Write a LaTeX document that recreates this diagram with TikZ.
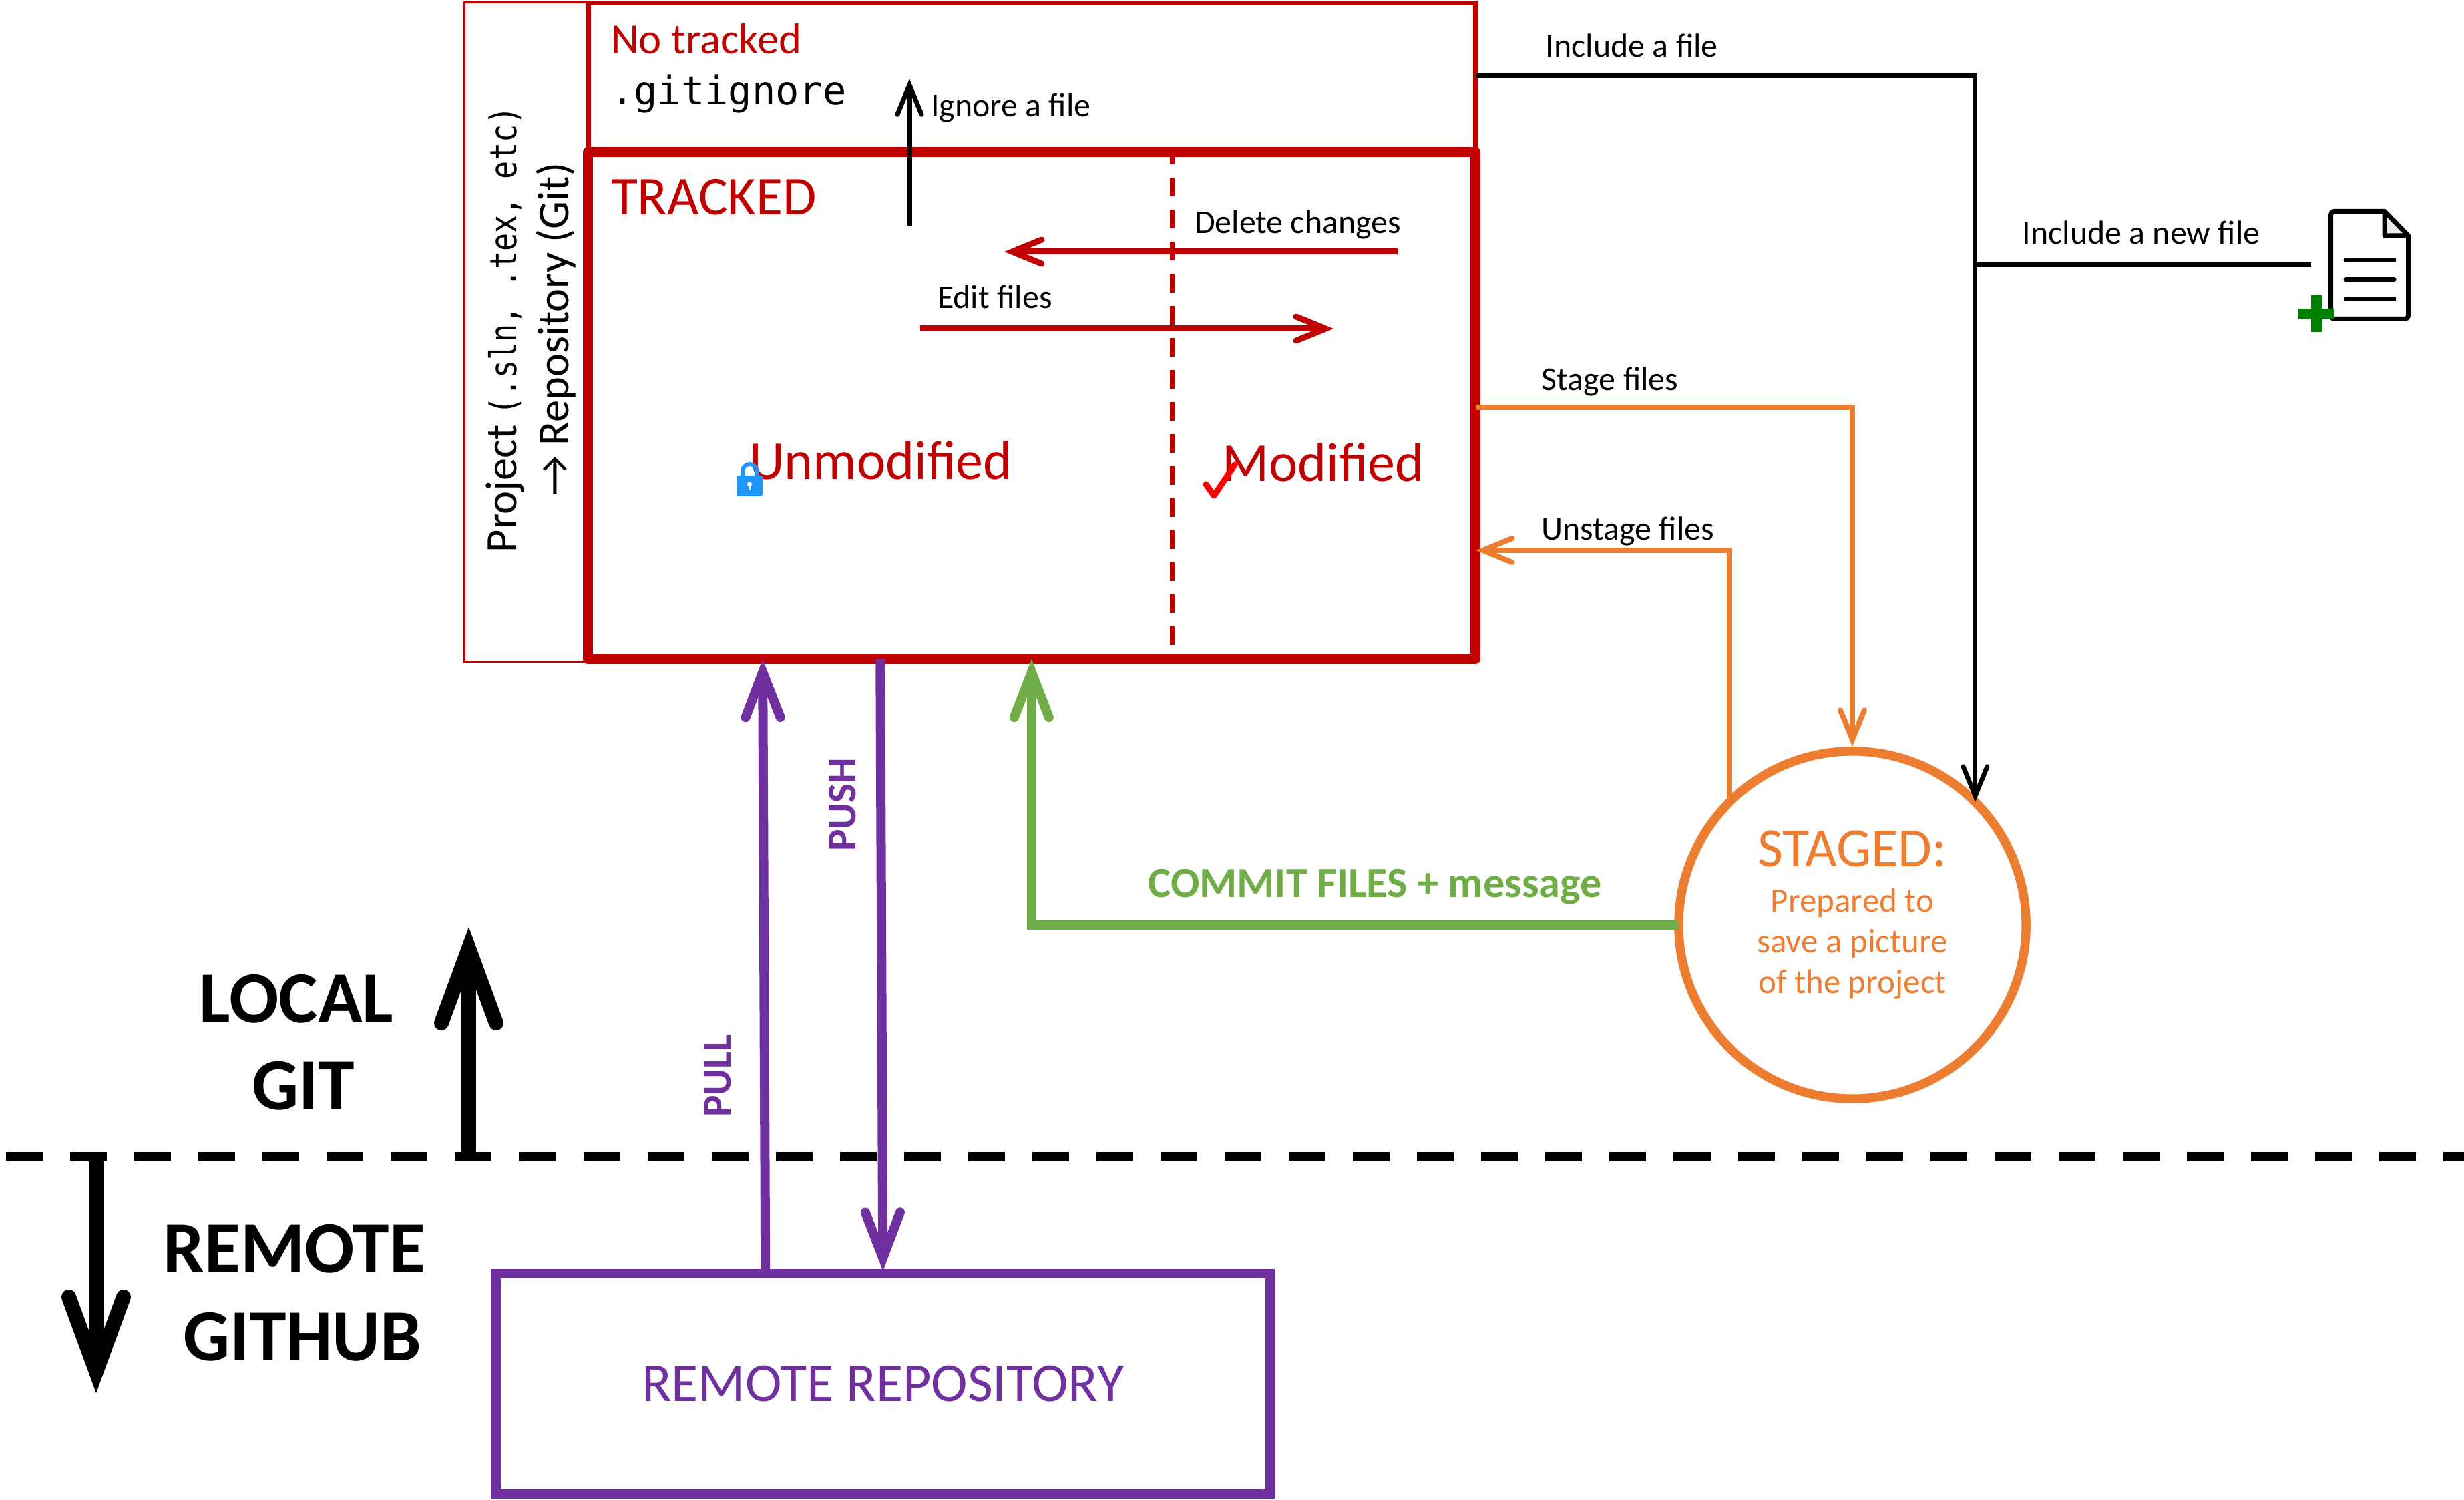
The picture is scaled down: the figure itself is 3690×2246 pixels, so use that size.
\documentclass[tikz,border=0pt]{standalone}
\usepackage{fontspec}
\setmainfont{Carlito}
\setmonofont{DejaVu Sans Mono}
\newfontfamily\narrowmono[FakeStretch=.82]{DejaVu Sans Mono}
\usetikzlibrary{arrows.meta}
\definecolor{trackred}{HTML}{C00000}
\definecolor{stageorange}{HTML}{ED7D31}
\definecolor{commitgreen}{HTML}{70AD47}
\definecolor{remotepurple}{HTML}{7030A0}
\definecolor{lockblue}{HTML}{1E96FA}
\definecolor{plusgreen}{HTML}{008000}
\tikzset{
  box/.style={draw,inner sep=0pt,outer sep=0pt,anchor=north west},
  lab/.style={inner sep=0pt,outer sep=0pt,anchor=base west,font=\fontsize{14.2}{17}\selectfont},
  redlab/.style={lab,text=trackred},
  loud/.style={inner sep=0pt,anchor=base,font=\bfseries\fontsize{31.3}{36}\selectfont},
  vert/.style={inner sep=0pt,rotate=90,text=remotepurple,font=\bfseries\fontsize{17.4}{20}\selectfont},
  tinybarb/.tip={Straight Barb[length=.44cm,width=.36cm,line cap=round,line join=miter]},
  midbarb/.tip={Straight Barb[length=.68cm,width=.52cm,line cap=round,line join=miter]},
  bigbarb/.tip={Straight Barb[length=1.12cm,width=.82cm,line cap=round,line join=miter]},
  blackline/.style={draw=black,line width=.07cm},
  orangeline/.style={draw=stageorange,line width=.08cm},
  redline/.style={draw=trackred,line width=.09cm},
  fatline/.style={line width=.14cm},
  iconline/.style={draw=black,line width=.07cm,line cap=round,line join=round}
}
\begin{document}
\begin{tikzpicture}[x=0.01cm,y=-0.01cm]
  \useasboundingbox (0,0) rectangle (3690,2246);
  % boxes
  \node[box,draw=trackred,line width=.03cm,minimum width=1.86cm,minimum height=9.86cm] (project) at (695,4) {};
  \node[box,draw=trackred,line width=.07cm,minimum width=13.28cm,minimum height=2.235cm] (notrack) at (881,4.5) {};
  \node[box,draw=trackred,line width=.15cm,line join=round,minimum width=13.29cm,minimum height=7.58cm] (tracked) at (880,228) {};
  \node[box,draw=remotepurple,line width=.14cm,minimum width=11.58cm,minimum height=3.3cm,text=remotepurple,font=\fontsize{23.4}{26}\selectfont] (remote) at (743,1907) {REMOTE REPOSITORY};
  \node[draw=stageorange,line width=.134cm,circle,minimum size=5.2cm,inner sep=0pt,outer sep=0pt] (staged) at (2774,1385) {};
  \node[inner sep=0pt,outer sep=0pt,minimum width=1.5cm,minimum height=1.68cm] (newfile) at (3536,397) {};
  % texts of the boxes
  \node[rotate=90,inner sep=0pt,align=center,font=\fontsize{18.9}{22.2}\selectfont] (projectlab) at ([xshift=.07cm,yshift=.04cm]project) {Project {\narrowmono\fontsize{15.65}{22.2}\selectfont(.sln, .tex, etc)}\\→ Repository (Git)};
  \node[redlab,font=\fontsize{18.4}{21}\selectfont,xshift=.34cm,yshift=-.755cm] (notracklab) at (notrack.north west) {No tracked};
  \node[lab,font=\ttfamily\fontsize{16.7}{19}\selectfont,xshift=.33cm,yshift=-1.515cm] (gitignore) at (notrack.north west) {.gitignore};
  \node[redlab,font=\fontsize{23.3}{27}\selectfont,xshift=.35cm,yshift=-.93cm] (trackedlab) at (tracked.north west) {TRACKED};
  \node[redlab,font=\fontsize{23.3}{26}\selectfont,xshift=2.42cm,yshift=-4.89cm] (unmodified) at (tracked.north west) {Unmodified};
  \node[redlab,font=\fontsize{23.3}{26}\selectfont,xshift=9.5cm,yshift=-4.92cm] (modified) at (tracked.north west) {Modified};
  \node[inner sep=0pt,align=center,text=stageorange,font=\fontsize{14.5}{17.4}\selectfont,yshift=.15cm] (stagedlab) at (staged) {{\fontsize{23.5}{26}\selectfont STAGED:}\\[.07cm]Prepared to\\save a picture\\of the project};
  % dotted split inside tracked
  \coordinate (splittop) at (1755,228);
  \draw[trackred,line width=.07cm,dash pattern=on .28cm off .20cm,dash phase=.10cm] (splittop) -- (splittop |- tracked.south);
  % red and black arrows inside
  \coordinate (deletefrom) at (2093,377);
  \coordinate (deleteto) at (1504,377);
  \coordinate (editfrom) at (1378,492);
  \coordinate (editto) at (1997,492);
  \coordinate (ignorefrom) at (1362,338);
  \coordinate (ignoreto) at (1362,118);
  \draw[redline,-tinybarb] (deletefrom) -- (deleteto);
  \draw[redline,-tinybarb] (editfrom) -- (editto);
  \draw[blackline,-tinybarb] (ignorefrom) -- (ignoreto);
  \node[lab,xshift=.34cm,yshift=.27cm] (deletelab) at (deletefrom -| splittop) {Delete changes};
  \node[lab,xshift=.26cm,yshift=.30cm] (editlab) at (editfrom) {Edit files};
  \node[lab,xshift=.32cm,yshift=1.63cm] (ignorelab) at (ignorefrom) {Ignore a file};
  % black lines to staged
  \draw[blackline,-tinybarb] ([yshift=.03cm]notrack.east) -| (staged.45);
  \draw[blackline] (newfile.west) -- (newfile.west -| staged.45);
  \node[lab,xshift=1.05cm,yshift=.31cm] (includelab) at (notrack.east) {Include a file};
  \node[lab,xshift=-4.32cm,yshift=.31cm] (includenewlab) at (newfile.west) {Include a new file};
  % orange lines
  \coordinate (unstageto) at (2210,824);
  \draw[orangeline,-tinybarb,shorten >=.07cm] ([yshift=-.03cm]tracked.east) -| (staged.north);
  \draw[orangeline,-tinybarb] (staged.135) |- (unstageto);
  \node[lab,xshift=.99cm,yshift=.26cm] (stagelab) at ([yshift=-.03cm]tracked.east) {Stage files};
  \node[lab,xshift=.98cm,yshift=.15cm] (unstagelab) at (unstageto) {Unstage files};
  % commit
  \draw[fatline,draw=commitgreen,-midbarb] (staged.west) -| (tracked.south);
  \node[lab,text=commitgreen,font=\bfseries\fontsize{18.3}{20}\selectfont,xshift=-7.94cm,yshift=.41cm] (commitlab) at (staged.west) {COMMIT FILES + message};
  % pull and push
  \draw[fatline,draw=remotepurple,-midbarb] ([xshift=-1.76cm]remote.north) -- ([xshift=-4.025cm]tracked.south);
  \draw[fatline,draw=remotepurple,-midbarb,shorten >=.04cm] ([xshift=-2.265cm]tracked.south) -- (remote.north);
  \node[vert] (pulllab) at ([xshift=-2.47cm,yshift=2.96cm]remote.north) {PULL};
  \node[vert] (pushlab) at ([xshift=-2.835cm,yshift=-2.18cm]tracked.south) {PUSH};
  % border local / remote
  \coordinate (borderl) at (9,1732);
  \coordinate (borderr) at (3690,1732);
  \coordinate (localto) at (702,1388);
  \coordinate (remoteto) at (144,2086);
  \draw[line width=.14cm,dash pattern=on .55cm off .41cm] (borderl) -- (borderr);
  \draw[line width=.22cm,-bigbarb] (localto |- borderl) -- (localto);
  \draw[line width=.22cm,-bigbarb] (remoteto |- borderl) -- (remoteto);
  \node[loud] (locallab) at (444,1531) {LOCAL};
  \node[loud,anchor=base,yshift=-1.30cm] (gitlab) at ([xshift=.10cm]locallab.base) {GIT};
  \node[loud] (remotelab) at (441,1905) {REMOTE};
  \node[loud,anchor=base,yshift=-1.32cm] (githublab) at ([xshift=.12cm]remotelab.base) {GITHUB};
  % lock
  \draw[lockblue,line width=.06cm] (1112,716) -- (1112,705.5) arc (180:0:.105cm) -- (1133,716);
  \fill[lockblue,rounded corners=.03cm] (1103,712) rectangle (1142,743);
  \fill[white] (1122.5,725) circle (.035cm);
  \fill[white] (1121,725) rectangle (1124,734);
  % check mark
  \draw[red,line width=.09cm,line cap=round,line join=round] (1806,725) -- (1818,742) -- (1849,696);
  % file icon
  \draw[iconline,rounded corners=.05cm] (3571,316.5) -- (3490.5,316.5) -- (3490.5,477.5) -- (3606.5,477.5) -- (3606.5,353);
  \draw[iconline,fill=black!8] (3571,316.5) -- (3571,353) -- (3606.5,353) -- cycle;
  \foreach \y in {390,419,448} {
    \draw[iconline] (3513,\y) -- (3585,\y);
  }
  \fill[plusgreen] (3461,442) rectangle (3477,497);
  \fill[plusgreen] (3441,462) rectangle (3496,477);
\end{tikzpicture}
\end{document}
